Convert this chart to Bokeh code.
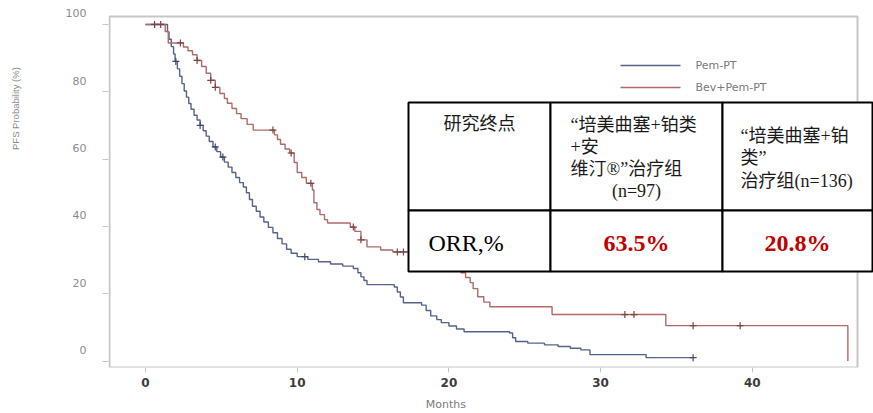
import numpy as np
from bokeh.plotting import figure
from bokeh.models import Range1d, FixedTicker, Label, BoxAnnotation, LinearAxis
from bokeh.embed import file_html
from bokeh.resources import INLINE

# ---- Kaplan-Meier data (months, PFS %) ----
months_pem = [0, 1.45, 1.55, 1.7, 1.85, 1.95, 2.1, 2.25, 2.4, 2.55, 2.7, 2.85, 3.0, 3.2,
              3.4, 3.6, 3.8, 4.0, 4.2, 4.45, 4.7, 4.95, 5.2, 5.45, 5.7, 5.95, 6.2, 6.45,
              6.65, 6.85, 7.05, 7.3, 7.55, 7.8, 8.1, 8.4, 8.7, 9.0, 9.3, 9.6, 10.0, 10.7,
              11.4, 12.2, 13.0, 13.7, 14.0, 14.2, 14.4, 14.6, 16.4, 16.6, 16.8, 17.0, 18.2,
              18.5, 18.8, 19.2, 19.5, 20.0, 20.5, 21.0, 24.0, 24.2, 24.4, 25.2, 26.3, 27.2,
              28.0, 28.7, 29.3, 33.0, 36.1]
surv_pem = [100, 97.8, 95.6, 93.4, 91.2, 89.0, 86.8, 84.6, 82.4, 80.2, 78.4, 76.5, 74.8, 73.0,
            71.6, 70.0, 68.4, 66.8, 65.2, 63.6, 62.2, 60.6, 59.1, 57.6, 56.0, 54.5, 53.0, 51.7,
            50.0, 48.0, 46.0, 44.5, 42.8, 41.3, 39.7, 38.1, 36.4, 34.8, 33.2, 32.0, 31.0, 30.2,
            29.5, 28.8, 28.2, 27.5, 26.2, 25.0, 23.9, 22.7, 22.0, 20.5, 19.0, 17.3, 16.6,
            15.0, 13.4, 12.3, 11.4, 10.4, 9.5, 8.7, 8.3, 6.9, 5.8, 5.3, 4.8, 4.3,
            3.8, 3.3, 1.9, 1.0, 1.0]
censor_pem = [2.0, 3.6, 4.6, 5.1, 10.5, 36.1]

months_bev = [0, 1.3, 1.5, 2.5, 2.8, 3.1, 3.4, 3.7, 4.0, 4.3, 4.6, 4.9, 5.2, 5.4, 5.7, 6.0,
              6.3, 6.7, 7.1, 8.5, 8.7, 8.9, 9.2, 9.5, 9.8, 10.0, 10.3, 10.6, 11.0, 11.1, 11.3,
              11.5, 11.8, 12.0, 13.5, 13.8, 14.2, 14.6, 15.5, 16.3, 17.5, 18.5, 19.5, 20.3,
              20.8, 21.1, 21.4, 21.6, 21.9, 22.3, 22.7, 26.8, 34.3, 46.3]
surv_bev = [100, 97.9, 94.5, 93.3, 92.2, 91.0, 89.3, 87.5, 85.5, 83.4, 81.3, 79.5, 78.0, 76.6,
            75.0, 73.5, 72.0, 70.3, 68.6, 67.2, 65.8, 64.4, 63.0, 61.8, 59.0, 56.0, 54.5, 52.8,
            50.8, 47.0, 45.0, 43.5, 42.0, 41.0, 39.8, 38.5, 36.0, 33.9, 33.0, 32.4, 31.5, 30.0,
            28.5, 27.2, 26.2, 24.8, 23.3, 21.5, 19.1, 17.5, 16.1, 13.8, 10.5, 0]
censor_bev = [0.6, 1.0, 2.3, 3.4, 4.3, 4.6, 8.4, 9.6, 10.9, 13.7, 14.2, 16.6, 17.0,
              31.6, 32.2, 36.1, 39.2]

series_names = ["Pem-PT", "Bev+Pem-PT"]
x_ticks = [0, 10, 20, 30, 40]
y_ticks = [0, 20, 40, 60, 80, 100]
x_title, x_title_at = "Months", 19.8
y_title, y_title_at = "PFS Probability (%)", 75

# ---- ORR table ----
table_head_col0 = ["研究终点"]
table_head_col1 = ["“培美曲塞+铂类", "+安", "维汀®”治疗组"]
table_head_col1_n = "(n=97)"
table_head_col2 = ["“培美曲塞+铂", "类”", "治疗组(n=136)"]
orr_label = "ORR,%"
orr_values = ["63.5%", "20.8%"]

# ---- styling ----
W, H = 873, 413
FRAME_L, FRAME_T, FRAME_B = 108, 0, 368
X0, X1 = -2.44, 47.99
Y0, Y1 = -1.93, 107.11
BLUE = "#56628c"
RED = "#b06a6a"
BLUE_MARK = "#3e4868"
RED_MARK = "#7a4444"
AXIS_GRAY = "#c6c6c6"
TICK_TEXT = "#8c8c8c"
SERIF_CJK = "Liberation Serif, Noto Sans CJK SC"
LABEL_LIFT_PX = 11  # y tick labels sit a little above their ticks

p = figure(width=W, height=H,
           x_range=Range1d(X0, X1), y_range=Range1d(Y0, Y1),
           output_backend="svg", toolbar_location=None,
           min_border_left=FRAME_L, min_border_right=0,
           min_border_top=FRAME_T, min_border_bottom=H - FRAME_B)
p.background_fill_color = "white"
p.border_fill_color = "white"
p.outline_line_color = None
p.grid.visible = False

def bare(axis):
    axis.axis_line_color = None
    axis.major_tick_in = 0
    axis.minor_tick_out = 0
    axis.minor_tick_in = 0

# x axis: ticks and labels
xa = p.xaxis[0]
bare(xa)
xa.ticker = FixedTicker(ticks=x_ticks)
xa.major_tick_line_color = AXIS_GRAY
xa.major_tick_out = 5
xa.major_label_standoff = 5
xa.major_label_text_font = "DejaVu Sans"
xa.major_label_text_font_style = "bold"
xa.major_label_text_font_size = "12px"
xa.major_label_text_color = "#3c3c3c"

# x title as a single labelled position under the axis
xt = LinearAxis(ticker=FixedTicker(ticks=[x_title_at]),
                major_label_overrides={x_title_at: x_title},
                major_tick_out=0, major_label_standoff=8,
                major_label_text_font="DejaVu Sans", major_label_text_font_size="11px",
                major_label_text_color="#7a7a7a")
bare(xt)
p.add_layout(xt, "below")

# y axis: tick marks only
ya = p.yaxis[0]
bare(ya)
ya.ticker = FixedTicker(ticks=y_ticks)
ya.major_tick_line_color = AXIS_GRAY
ya.major_tick_out = 6
ya.major_label_standoff = 0
ya.major_label_overrides = {v: "" for v in y_ticks}
ya.major_label_text_font_size = "1px"

# y tick labels on a lifted copy of the y range
lift = LABEL_LIFT_PX * (Y1 - Y0) / (FRAME_B - FRAME_T)
p.extra_y_ranges = {"ylab": Range1d(Y0 - lift, Y1 - lift)}
ylab = LinearAxis(y_range_name="ylab", ticker=FixedTicker(ticks=y_ticks),
                  major_tick_out=0, major_label_standoff=16,
                  major_label_text_font="DejaVu Sans", major_label_text_font_size="11px",
                  major_label_text_color=TICK_TEXT)
bare(ylab)
p.add_layout(ylab, "left")

# y title, rotated, over the upper part of the axis
yt = LinearAxis(ticker=FixedTicker(ticks=[y_title_at]),
                major_label_overrides={y_title_at: y_title},
                major_label_orientation="vertical",
                major_tick_out=0, major_label_standoff=41,
                major_label_text_font="Liberation Sans", major_label_text_font_size="9.5px",
                major_label_text_color="#8a8a8a")
bare(yt)
p.add_layout(yt, "left")

# plot box (right edge at the end of the R-style region)
p.add_layout(BoxAnnotation(left=109, right=857, top=16, bottom=367,
                           left_units="canvas", right_units="canvas",
                           top_units="canvas", bottom_units="canvas",
                           fill_color=None, line_color=AXIS_GRAY, line_alpha=1,
                           line_width=2, level="underlay"))

# ---- survival curves ----
def at(times, months, surv):
    idx = np.searchsorted(np.asarray(months), np.asarray(times), side="right") - 1
    return list(np.asarray(surv)[idx])

p.step(months_pem, surv_pem, mode="after", line_color=BLUE, line_width=1.4)
p.step(months_bev, surv_bev, mode="after", line_color=RED, line_width=1.4)
p.scatter(censor_pem, at(censor_pem, months_pem, surv_pem), marker="cross",
          size=7, line_color=BLUE_MARK, line_width=1.2)
p.scatter(censor_bev, at(censor_bev, months_bev, surv_bev), marker="cross",
          size=7, line_color=RED_MARK, line_width=1.2)

# ---- legend ----
for name, color, cy in zip(series_names, [BLUE, RED], [65, 87]):
    p.add_layout(BoxAnnotation(left=620, right=680, top=cy - 0.8, bottom=cy + 0.8,
                               left_units="canvas", right_units="canvas",
                               top_units="canvas", bottom_units="canvas",
                               fill_color=color, fill_alpha=1, line_color=None))
    p.add_layout(Label(x=695, y=cy, x_units="canvas", y_units="canvas", text=name,
                       text_align="left", text_baseline="middle",
                       text_font="DejaVu Sans", text_font_size="11px",
                       text_color="#7a7a7a"))

# ---- ORR table ----
col_edges = [408, 550, 722, 872]
row_edges = [102, 210, 271]
for r in range(2):
    for c in range(3):
        p.add_layout(BoxAnnotation(left=col_edges[c], right=col_edges[c + 1],
                                   top=row_edges[r], bottom=row_edges[r + 1],
                                   left_units="canvas", right_units="canvas",
                                   top_units="canvas", bottom_units="canvas",
                                   fill_color="white", fill_alpha=1,
                                   line_color="black", line_alpha=1, line_width=2))

def cell_text(x, y, text, align="left", size="18px", color="#1a1a1a", style="normal"):
    p.add_layout(Label(x=x, y=y, x_units="canvas", y_units="canvas", text=text,
                       text_align=align, text_baseline="middle",
                       text_font=SERIF_CJK, text_font_size=size,
                       text_font_style=style, text_color=color))

cell_text(479, 123, table_head_col0[0], align="center")
for i, line in enumerate(table_head_col1):
    cell_text(570, 124 + 22 * i, line)
cell_text(636, 190, table_head_col1_n, align="center")
for i, line in enumerate(table_head_col2):
    cell_text(740, 135 + 22.5 * i, line)
cell_text(428, 242, orr_label, size="24px", color="black")
cell_text(636, 242, orr_values[0], align="center", size="24px", color="#c00000", style="bold")
cell_text(797, 242, orr_values[1], align="center", size="24px", color="#c00000", style="bold")

open("out.html", "w").write(file_html(p, INLINE))
